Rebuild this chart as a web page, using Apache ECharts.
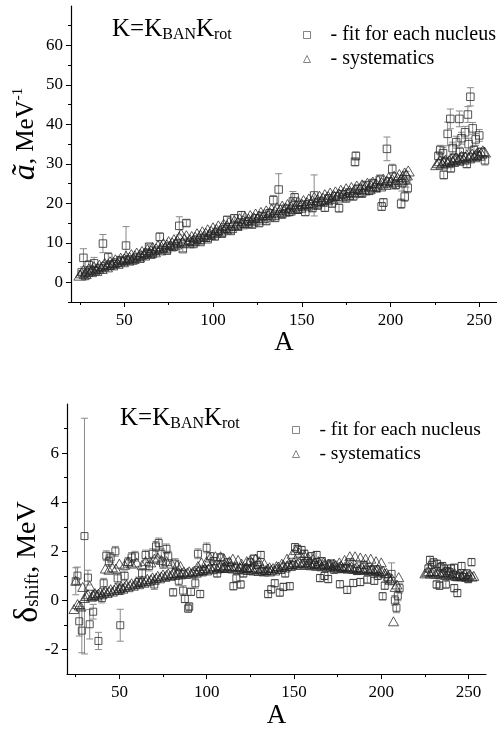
<!DOCTYPE html>
<html>
<head>
<meta charset="utf-8">
<script src="https://cdn.jsdelivr.net/npm/echarts@6/dist/echarts.min.js"></script>
<style>
html,body{margin:0;padding:0;background:#fff;}
#c{width:497px;height:730px;}
</style>
</head>
<body>
<div id="c"></div>
<script>
// ---------- DATA ----------
const serFit = 'fit for each nucleus';
const serSys = 'systematics';

// top panel: level density parameter, fit for each nucleus [A, value, error]
const topFit = [
[26,2.5,0.4],[27,6.2,2.3],[28,1.6,0.4],[30,4.3,1.2],[31,3.0,0.5],[33,4.8,1.5],[34,2.8,0.4],[36,3.6,0.5],
[38,9.8,2.3],[39,4.0,0.5],[41,6.3,1.2],[42,4.2,0.5],[44,4.6,0.5],[46,5.0,0.5],[48,5.6,0.6],[50,5.4,0.5],
[51,9.3,4.8],[53,5.8,0.6],[55,5.5,0.5],[57,6.3,0.6],[59,6.0,0.5],[61,6.9,0.6],[63,7.5,0.6],[64,9.0,0.7],
[66,7.2,0.6],[68,8.0,0.6],[70,11.5,1.0],[72,8.5,0.6],[74,8.0,0.6],[76,9.2,0.7],[78,9.0,0.6],[80,9.8,0.7],
[81,14.3,2.3],[83,8.4,0.6],[85,15.0,0.8],[87,10.2,0.7],[89,9.7,0.6],[91,10.8,0.7],[93,10.2,0.6],[95,11.3,0.7],
[97,10.9,0.6],[99,12.0,0.7],[101,11.6,0.7],[103,12.8,0.7],[105,12.3,0.7],[107,13.5,0.8],[108,15.8,0.9],[110,13.0,0.7],
[112,16.2,0.9],[114,14.2,0.8],[116,17.0,0.9],[118,14.8,0.8],[120,15.5,0.8],[122,14.6,0.7],[124,16.2,0.9],[126,15.0,0.8],
[128,16.8,0.9],[130,15.5,0.8],[132,17.5,0.9],[134,20.8,1.2],[135,16.3,0.8],[137,23.5,4.0],[139,17.2,0.9],[141,18.6,1.0],
[143,17.8,0.9],[145,20.5,2.5],[146,21.5,1.0],[148,18.4,0.9],[150,19.6,1.0],[152,17.8,0.9],[154,19.8,1.0],[156,18.8,0.9],
[157,22.0,5.2],[159,19.5,1.0],[161,20.4,1.0],[163,18.9,0.9],[165,21.2,1.0],[167,20.0,1.0],[169,21.8,1.0],[171,18.8,1.0],
[173,22.3,1.0],[175,21.3,1.0],[177,22.7,1.0],[179,21.8,1.0],[180,30.5,1.0],[180.5,32.0,1.0],[182,23.6,1.1],[184,22.5,1.0],
[186,24.5,1.1],[188,23.2,1.0],[190,25.0,1.1],[192,24.0,1.0],[194,26.0,1.2],[195,19.2,1.0],[196,20.2,1.0],[198,33.8,3.0],
[199,25.5,1.0],[201,28.7,1.2],[203,24.7,1.1],[206,19.9,1.2],[206.5,25.1,2.0],[208,21.7,1.2],[208.8,26.1,2.0],[209.7,23.9,1.2],
[227,32.0,1.0],[228,33.5,1.2],[229.6,32.7,1.5],[230,27.2,1.0],[231,30.5,1.0],[232.2,37.6,3.0],[233.7,41.4,2.5],[234,28.9,1.0],
[235,34.0,1.5],[236,31.5,1.0],[237,35.5,1.5],[238.8,41.4,2.0],[239,33.0,1.2],[240,36.5,1.5],[241,31.8,1.0],[242,38.0,1.5],
[243.6,42.5,2.0],[243,30.0,1.0],[244,35.0,1.5],[245,47.0,2.3],[246.3,39.0,1.5],[247,33.5,1.0],[248,36.2,1.5],[249,32.0,1.0],
[250,37.2,1.5],[251,33.0,1.0],[253.2,30.9,1.2]
];

// top panel: systematics [A, value]
const topSys = [
[25,1.8],[26,2.4],[27,3.0],[28,2.2],[29,2.8],[30,3.4],[31,2.7],[32,3.3],[33,3.9],[34,3.0],[35,3.6],[36,4.3],
[37,3.5],[38,4.1],[39,4.8],[40,3.9],[41,4.5],[42,5.2],[43,4.4],[44,5.0],[45,5.7],[46,4.8],[47,5.4],[48,6.1],
[49,5.2],[50,5.9],[51,6.6],[52,5.6],[53,6.3],[54,7.0],[55,6.0],[56,6.7],[57,7.4],[58,6.4],[59,7.1],[60,7.8],
[61,6.9],[62,7.6],[63,8.3],[64,7.3],[65,8.0],[66,8.8],[67,7.7],[68,8.5],[69,9.3],[70,8.2],[71,9.0],[72,9.8],
[73,8.7],[74,9.5],[75,10.3],[76,9.2],[77,10.0],[78,10.8],[79,9.7],[80,10.5],[81,11.4],[82,12.2],[83,10.2],[84,11.0],
[85,11.8],[86,10.0],[87,10.8],[88,11.6],[89,10.6],[90,11.4],[91,12.3],[92,11.1],[93,11.9],[94,12.8],[95,11.6],[96,12.4],
[97,13.3],[98,12.1],[99,12.9],[100,13.8],[101,12.6],[102,13.4],[103,14.3],[104,13.0],[105,13.8],[106,14.7],[107,13.5],[108,14.3],
[109,15.2],[110,13.9],[111,14.7],[112,15.6],[113,14.4],[114,15.2],[115,16.1],[116,14.8],[117,15.6],[118,16.5],[119,15.2],[120,16.0],
[121,16.9],[122,15.6],[123,16.4],[124,17.3],[125,16.0],[126,16.8],[127,17.7],[128,16.4],[129,17.2],[130,18.1],[131,16.8],[132,17.6],
[133,18.5],[134,17.2],[135,18.0],[136,18.9],[137,17.6],[138,18.4],[139,19.3],[140,18.0],[141,18.8],[142,19.7],[143,18.3],[144,19.1],
[145,20.0],[146,18.7],[147,19.5],[148,20.4],[149,19.0],[150,19.8],[151,20.7],[152,19.4],[153,20.2],[154,21.1],[155,19.8],[156,20.6],
[157,21.5],[158,20.1],[159,20.9],[160,21.8],[161,20.5],[162,21.3],[163,22.2],[164,20.9],[165,21.7],[166,22.6],[167,21.2],[168,22.0],
[169,22.9],[170,21.6],[171,22.4],[172,23.3],[173,22.0],[174,22.8],[175,23.7],[176,22.3],[177,23.1],[178,24.0],[179,22.7],[180,23.5],
[181,24.4],[182,23.0],[183,23.8],[184,24.7],[185,23.4],[186,24.2],[187,25.1],[188,23.7],[189,24.5],[190,25.4],[191,24.1],[192,24.9],
[193,25.8],[194,24.4],[195,25.2],[196,26.1],[197,24.8],[198,25.6],[199,26.5],[200,25.2],[201,26.0],[202,26.9],[203,25.6],[204,26.4],
[205,27.3],[206,26.0],[207,26.8],[208,27.7],[209,27.2],[210,28.2],
[226,29.8],[227,30.3],[228,30.8],[229,30.0],[230,30.5],[231,31.0],[232,30.3],[233,30.8],[234,31.3],[235,30.6],[236,31.1],[237,31.6],
[238,30.9],[239,31.4],[240,31.9],[241,31.2],[242,31.7],[243,32.2],[244,31.5],[245,32.0],[246,32.5],[247,31.8],[248,32.3],[249,32.8],
[250,32.2],[251,32.7],[252,33.3],[253,33.0]
];

// bottom panel: shift, fit for each nucleus [A, value, error]
const botFit = [
[25,0.78,0.55],[26,1.01,0.35],[27,-0.85,0.6],[28.5,-1.23,0.9],[30,2.62,4.8],[32,0.93,0.3],[33,-0.97,0.6],[35,-0.46,0.3],
[36,0.2,0.2],[38,-1.65,0.35],[40,0.1,0.2],[41,0.7,0.2],[42.5,1.82,0.2],[44,1.6,0.2],[45,1.75,0.2],[47.7,2.0,0.2],
[49,0.9,0.2],[50.5,-1.01,0.65],[51,0.45,0.2],[53,1.0,0.2],[55,1.55,0.2],[57,1.75,0.2],[59,1.8,0.2],[61,0.75,0.2],
[63,1.1,0.2],[65,1.85,0.2],[67,1.4,0.2],[69,1.9,0.2],[70,0.65,0.2],[71,2.2,0.2],[72.5,2.34,0.2],[74,1.9,0.2],
[75,1.5,0.2],[77,2.1,0.2],[78,1.8,0.2],[80.8,0.33,0.15],[82,1.5,0.2],[84,0.8,0.2],[86.5,0.4,0.2],[87.5,0.06,0.15],
[89.4,-0.33,0.15],[90,-0.25,0.15],[91,0.35,0.15],[93.5,0.7,0.2],[95,1.9,0.2],[96.3,0.26,0.15],[98,1.2,0.15],[100,2.14,0.2],
[102,1.8,0.15],[104,1.6,0.15],[106,1.1,0.15],[108,1.75,0.15],[110,1.3,0.15],[112,1.55,0.15],[115.3,0.58,0.15],[117,0.9,0.15],
[119.5,0.65,0.15],[121,1.1,0.15],[123,1.3,0.15],[125,1.55,0.15],[127,1.7,0.15],[129,1.45,0.15],[131,1.85,0.15],[133,1.2,0.15],
[135.2,0.26,0.15],[137,0.45,0.15],[139,0.7,0.15],[141.9,0.32,0.15],[144,0.55,0.15],[145,1.1,0.15],[147.6,0.58,0.15],[149,1.45,0.15],
[150.6,2.17,0.15],[152,2.1,0.15],[154.4,2.05,0.15],[156,1.9,0.15],[158,1.6,0.15],[160,1.8,0.15],[162,1.45,0.15],[163,1.85,0.15],
[164.9,0.91,0.15],[166,1.6,0.15],[167.5,1.0,0.15],[169.6,0.87,0.15],[171,1.5,0.15],[173,1.25,0.15],[176.3,0.66,0.15],[178,1.3,0.15],
[180.5,0.43,0.15],[182,1.55,0.15],[184,0.71,0.15],[186,1.2,0.15],[188,0.75,0.15],[190,1.45,0.15],[192,0.85,0.15],[194,1.25,0.15],
[196,0.8,0.15],[198,1.0,0.15],[200.8,0.17,0.15],[202,0.6,0.15],[204,0.9,0.2],[205.9,1.08,0.45],[207.8,0.0,0.2],[208.7,-0.3,0.2],
[209.5,0.19,0.2],[210.5,0.5,0.2],
[227,1.3,0.15],[227.9,1.65,0.15],[229,1.45,0.15],[230,1.55,0.15],[231.7,0.65,0.15],[232,1.49,0.15],[233.4,0.6,0.15],[234,1.35,0.15],
[235,1.4,0.15],[236,1.3,0.15],[237,0.65,0.15],[238,1.2,0.15],[239,1.15,0.15],[240,1.3,0.15],[241.7,1.33,0.15],[241.8,0.5,0.15],
[243,0.95,0.15],[243.6,0.3,0.15],[245,1.0,0.15],[246,1.4,0.15],[247,0.95,0.15],[249,1.1,0.15],[249.8,0.87,0.15],[251.7,1.56,0.15]
];

// bottom panel: systematics [A, value]
const botSys = [
[24,-0.35],[25,0.8],[26,-0.15],[27,-0.2],[28,-0.25],[29,0.55],[30,0.1],[31,0.18],[32,0.25],[33,0.6],[34,0.15],[35,0.22],
[36,0.3],[37,0.2],[38,0.28],[39,0.35],[40,0.25],[41,0.33],[42,0.4],[43,0.3],[44,0.38],[45,0.46],[46,0.36],[47,0.44],
[48,0.52],[49,0.42],[50,0.5],[51,0.58],[52,0.48],[53,0.56],[54,0.64],[55,0.54],[56,0.62],[57,0.7],[58,0.6],[59,0.68],
[60,0.76],[61,0.66],[62,0.74],[63,0.82],[64,0.72],[65,0.8],[66,0.88],[67,0.78],[68,0.86],[69,0.94],[70,0.84],[71,0.92],
[72,1.0],[73,0.9],[74,0.98],[75,1.06],[76,0.96],[77,1.04],[78,1.1],[79,1.0],[80,1.06],[81,1.12],[82,1.04],[83,1.1],
[84,1.15],[85,1.06],[86,1.12],[87,1.17],[88,1.08],[89,1.14],[90,1.19],[91,1.1],[92,1.16],[93,1.22],[94,1.13],[95,1.2],
[96,1.27],[97,1.18],[98,1.25],[99,1.32],[100,1.22],[101,1.3],[102,1.38],[103,1.27],[104,1.34],[105,1.4],[106,1.3],[107,1.36],
[108,1.42],[109,1.32],[110,1.38],[111,1.43],[112,1.32],[113,1.38],[114,1.42],[115,1.3],[116,1.36],[117,1.4],[118,1.28],[119,1.34],
[120,1.38],[121,1.26],[122,1.32],[123,1.36],[124,1.24],[125,1.3],[126,1.35],[127,1.22],[128,1.28],[129,1.33],[130,1.2],[131,1.26],
[132,1.31],[133,1.18],[134,1.24],[135,1.3],[136,1.18],[137,1.25],[138,1.32],[139,1.22],[140,1.3],[141,1.38],[142,1.28],[143,1.36],
[144,1.44],[145,1.34],[146,1.42],[147,1.5],[148,1.4],[149,1.48],[150,1.56],[151,1.45],[152,1.52],[153,1.58],[154,1.46],[155,1.52],
[156,1.57],[157,1.45],[158,1.5],[159,1.55],[160,1.43],[161,1.48],[162,1.53],[163,1.41],[164,1.46],[165,1.5],[166,1.39],[167,1.44],
[168,1.48],[169,1.37],[170,1.42],[171,1.46],[172,1.35],[173,1.4],[174,1.44],[175,1.33],[176,1.38],[177,1.42],[178,1.31],[179,1.36],
[180,1.4],[181,1.3],[182,1.34],[183,1.38],[184,1.28],[185,1.32],[186,1.36],[187,1.26],[188,1.3],[189,1.34],[190,1.24],[191,1.28],
[192,1.32],[193,1.22],[194,1.26],[195,1.3],[196,1.2],[197,1.24],[198,1.28],[199,1.16],[200,1.2],[201,1.22],[202,1.1],[203,1.12],
[204,1.0],[205,0.84],[206,0.9],[207,-0.85],[208,0.55],[209,0.65],[210,0.95],
[42,1.3],[44,1.25],[46,1.35],[48,1.3],[50,1.5],[53,1.45],[55,1.6],[57,1.5],[60,1.55],[63,1.45],[65,1.6],[68,1.55],
[70,1.7],[72,1.75],[74,1.65],[77,1.6],[80,1.5],[83,1.45],[85,1.4],[95,1.4],[97,1.55],[100,1.6],[102,1.75],[105,1.8],
[108,1.8],[110,1.7],[113,1.6],[115,1.7],[118,1.65],[120,1.5],[123,1.6],[125,1.65],[128,1.7],[130,1.6],[133,1.5],[136,1.35],
[140,1.4],[143,1.5],[146,1.7],[149,1.9],[151,2.05],[153,1.95],[156,1.85],[158,1.75],[161,1.7],[164,1.6],[167,1.55],[170,1.5],
[173,1.5],[176,1.55],[179,1.65],[182,1.8],[185,1.8],[188,1.75],[191,1.7],[194,1.7],[197,1.6],[200,1.55],
[225,1.1],[226,1.15],[227,1.2],[228,1.1],[229,1.15],[230,1.2],[231,1.08],[232,1.13],[233,1.18],[234,1.06],[235,1.11],[236,1.16],
[237,1.04],[238,1.09],[239,1.14],[240,1.02],[241,1.07],[242,1.12],[243,1.0],[244,1.05],[245,1.1],[246,0.98],[247,1.03],[248,1.08],
[249,0.96],[250,1.01],[251,1.06],[252,0.97],[253,1.0]
];

// tick labels
const xMajor = [50, 100, 150, 200, 250];
const xMinor = [25, 75, 125, 175, 225];
const topYMajor = [0, 10, 20, 30, 40, 50, 60];
const topYMinor = [-5, 5, 15, 25, 35, 45, 55, 65];
const botYMajor = [-2, 0, 2, 4, 6];
const botYMinor = [-1, 1, 3, 5, 7];

// ---------- CHART ----------
const FONT = 'Liberation Serif';
const chart = echarts.init(document.getElementById('c'), null, {renderer: 'canvas'});

function mainX(grid, gap) {
  return {
    type: 'value', gridIndex: grid, min: 20, max: 260, position: 'bottom',
    name: 'A', nameLocation: 'middle', nameGap: gap,
    nameTextStyle: {fontFamily: FONT, fontSize: 27, color: '#000'},
    axisLine: {show: true, onZero: false, lineStyle: {color: '#000', width: 1.2}},
    axisTick: {show: true, inside: false, length: 5, customValues: xMajor, lineStyle: {color: '#000'}},
    axisLabel: {show: true, customValues: xMajor, margin: 10, fontFamily: FONT, fontSize: 17, color: '#000'},
    splitLine: {show: false}
  };
}
function minorX(grid) {
  return {
    type: 'value', gridIndex: grid, min: 20, max: 260, position: 'bottom',
    axisLine: {show: false, onZero: false},
    axisTick: {show: true, inside: false, length: 3, customValues: xMinor, lineStyle: {color: '#000'}},
    axisLabel: {show: false}, splitLine: {show: false}
  };
}
function mainY(grid, min, max, major) {
  return {
    type: 'value', gridIndex: grid, min: min, max: max, position: 'left',
    axisLine: {show: true, onZero: false, lineStyle: {color: '#000', width: 1.2}},
    axisTick: {show: true, inside: false, length: 5, customValues: major, lineStyle: {color: '#000'}},
    axisLabel: {show: true, customValues: major, margin: 8, fontFamily: FONT, fontSize: 17, color: '#000'},
    splitLine: {show: false}
  };
}
function minorY(grid, min, max, minor) {
  return {
    type: 'value', gridIndex: grid, min: min, max: max, position: 'left',
    axisLine: {show: false, onZero: false},
    axisTick: {show: true, inside: false, length: 3, customValues: minor, lineStyle: {color: '#000'}},
    axisLabel: {show: false}, splitLine: {show: false}
  };
}

function errBar(params, api) {
  const x = api.value(0), y = api.value(1), e = api.value(2);
  const hi = api.coord([x, y + e]);
  const lo = api.coord([x, y - e]);
  const w = 3.5;
  const st = {stroke: '#8a8a8a', lineWidth: 1};
  return {
    type: 'group',
    children: [
      {type: 'line', shape: {x1: hi[0], y1: hi[1], x2: lo[0], y2: lo[1]}, style: st},
      {type: 'line', shape: {x1: hi[0] - w, y1: hi[1], x2: hi[0] + w, y2: hi[1]}, style: st},
      {type: 'line', shape: {x1: lo[0] - w, y1: lo[1], x2: lo[0] + w, y2: lo[1]}, style: st}
    ]
  };
}

function legendFor(left, top, fs) {
  return {
    orient: 'vertical', left: left, top: top, itemGap: 4,
    itemWidth: 7, itemHeight: 7, selectedMode: false,
    itemStyle: {color: 'rgba(0,0,0,0)', borderColor: '#666', borderWidth: 1},
    data: [{name: serFit, icon: 'rect'}, {name: serSys, icon: 'triangle'}],
    formatter: function (n) { return '{t|- ' + n + '}'; },
    textStyle: {fontFamily: FONT, fontSize: fs, color: '#000',
      rich: {t: {fontFamily: FONT, fontSize: fs, color: '#000', padding: [0, 0, 0, 15]}}}
  };
}

function titleText(x, y) {
  return {
    type: 'text', x: x, y: y, silent: true,
    style: {
      text: '{b|K=K}{s|BAN}{b|K}{s|rot}',
      rich: {
        b: {fontFamily: FONT, fontSize: 25, color: '#000', lineHeight: 28},
        s: {fontFamily: FONT, fontSize: 16, color: '#000', lineHeight: 8, verticalAlign: 'bottom'}
      }
    }
  };
}

const option = {
  animation: false,
  backgroundColor: '#fff',
  grid: [
    {left: 71, top: 6, width: 426, height: 296},
    {left: 67, top: 404, width: 419, height: 280}
  ],
  xAxis: [mainX(0, 24), minorX(0), mainX(1, 24), minorX(1)],
  yAxis: [
    mainY(0, -5, 70, topYMajor), minorY(0, -5, 70, topYMinor),
    mainY(1, -3, 8, botYMajor), minorY(1, -3, 8, botYMinor)
  ],
  legend: [legendFor(298, 20, 20), legendFor(287, 415, 19.5)],
  graphic: [
    titleText(112, 15),
    titleText(120, 404),
    {
      type: 'text', x: 26, y: 134, rotation: Math.PI / 2, silent: true,
      style: {
        text: '{a|ã}{n|, MeV}{p|-1}', align: 'center', verticalAlign: 'middle',
        rich: {
          a: {fontFamily: FONT, fontStyle: 'italic', fontSize: 32, color: '#000', lineHeight: 30},
          n: {fontFamily: FONT, fontSize: 25, color: '#000', lineHeight: 30},
          p: {fontFamily: FONT, fontSize: 15, color: '#000', lineHeight: 30, verticalAlign: 'top', padding: [0, 0, 14, 0]}
        }
      }
    },
    {
      type: 'text', x: 28, y: 562, rotation: Math.PI / 2, silent: true,
      style: {
        text: '{d|δ}{s|shift}{n|, MeV}', align: 'center', verticalAlign: 'middle',
        rich: {
          d: {fontFamily: FONT, fontSize: 34, color: '#000', lineHeight: 30},
          s: {fontFamily: FONT, fontSize: 19, color: '#000', lineHeight: 12, verticalAlign: 'bottom'},
          n: {fontFamily: FONT, fontSize: 28, color: '#000', lineHeight: 30}
        }
      }
    }
  ],
  series: [
    {type: 'custom', name: 'errTop', xAxisIndex: 0, yAxisIndex: 0, renderItem: errBar,
     encode: {x: 0, y: 1}, data: topFit, silent: true, z: 1},
    {type: 'scatter', name: serSys, xAxisIndex: 0, yAxisIndex: 0, data: topSys,
     symbol: 'triangle', symbolSize: [12, 10],
     itemStyle: {color: 'rgba(0,0,0,0)', borderColor: '#1a1a1a', borderWidth: 0.9}, z: 2},
    {type: 'scatter', name: serFit, xAxisIndex: 0, yAxisIndex: 0, data: topFit,
     symbol: 'rect', symbolSize: 7.5,
     itemStyle: {color: 'rgba(0,0,0,0)', borderColor: '#2a2a2a', borderWidth: 1}, z: 3},

    {type: 'custom', name: 'errBot', xAxisIndex: 2, yAxisIndex: 2, renderItem: errBar,
     encode: {x: 0, y: 1}, data: botFit, silent: true, z: 1},
    {type: 'scatter', name: serSys, xAxisIndex: 2, yAxisIndex: 2, data: botSys,
     symbol: 'triangle', symbolSize: [10, 9],
     itemStyle: {color: 'rgba(0,0,0,0)', borderColor: '#1a1a1a', borderWidth: 0.9}, z: 2},
    {type: 'scatter', name: serFit, xAxisIndex: 2, yAxisIndex: 2, data: botFit,
     symbol: 'rect', symbolSize: 7,
     itemStyle: {color: 'rgba(0,0,0,0)', borderColor: '#2a2a2a', borderWidth: 1}, z: 3}
  ]
};
chart.setOption(option);
</script>
</body>
</html>
